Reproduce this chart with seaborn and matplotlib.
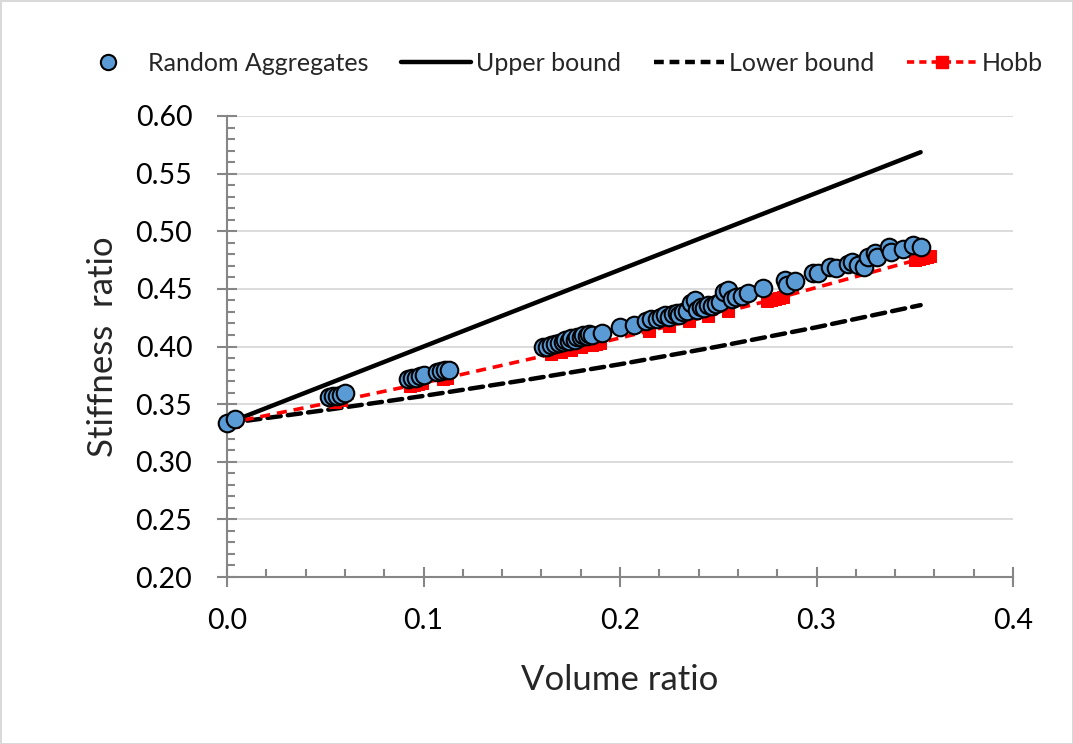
import numpy as np
import pandas as pd
import seaborn as sns
import matplotlib.pyplot as plt
from matplotlib.ticker import MultipleLocator
from matplotlib.lines import Line2D

# random aggregate results
agg_x = [0.000, 0.004, 0.052, 0.054, 0.056, 0.058, 0.060, 0.092, 0.094, 0.096, 0.098, 0.100,
         0.107, 0.109, 0.111, 0.113, 0.161, 0.163, 0.165, 0.167, 0.169, 0.171, 0.172, 0.174,
         0.175, 0.177, 0.178, 0.180, 0.181, 0.183, 0.184, 0.186, 0.191, 0.200, 0.207, 0.213,
         0.216, 0.219, 0.221, 0.223, 0.225, 0.227, 0.229, 0.230, 0.232, 0.234, 0.236, 0.238,
         0.239, 0.241, 0.243, 0.245, 0.247, 0.249, 0.251, 0.253, 0.255, 0.257, 0.259, 0.262,
         0.265, 0.273, 0.284, 0.285, 0.289, 0.298, 0.301, 0.307, 0.310, 0.316, 0.318, 0.321,
         0.324, 0.326, 0.330, 0.331, 0.337, 0.338, 0.344, 0.349, 0.353]
agg_y = [0.334, 0.337, 0.356, 0.357, 0.357, 0.358, 0.360, 0.372, 0.373, 0.373, 0.374, 0.375,
         0.378, 0.379, 0.380, 0.380, 0.400, 0.400, 0.401, 0.402, 0.403, 0.404, 0.406, 0.405,
         0.407, 0.406, 0.408, 0.408, 0.410, 0.409, 0.411, 0.410, 0.412, 0.417, 0.419, 0.422,
         0.424, 0.424, 0.426, 0.427, 0.426, 0.428, 0.429, 0.427, 0.430, 0.431, 0.438, 0.440,
         0.432, 0.434, 0.433, 0.436, 0.435, 0.437, 0.439, 0.447, 0.449, 0.441, 0.443, 0.444,
         0.446, 0.451, 0.458, 0.453, 0.457, 0.464, 0.464, 0.469, 0.468, 0.472, 0.473, 0.471,
         0.469, 0.478, 0.481, 0.478, 0.486, 0.482, 0.485, 0.488, 0.486]

# bounds
upper_x = [0.0, 0.353]
upper_y = [0.3333, 0.5686]
lower_x = [0.0, 0.05, 0.10, 0.15, 0.20, 0.25, 0.30, 0.353]
lower_y = [0.3333, 0.3448, 0.3571, 0.3704, 0.3846, 0.4000, 0.4167, 0.4359]

# Hobbs model
hobb_x = [0.0, 0.003, 0.055, 0.058, 0.093, 0.095, 0.097, 0.099, 0.110, 0.112, 0.165, 0.170,
          0.175, 0.180, 0.184, 0.186, 0.188, 0.190, 0.215, 0.225, 0.235, 0.245, 0.255, 0.275,
          0.277, 0.279, 0.281, 0.283, 0.350, 0.352, 0.354, 0.356, 0.358]
hobb_y = [0.3333, 0.3343, 0.3522, 0.3532, 0.3658, 0.3666, 0.3673, 0.3681, 0.3721, 0.3729,
          0.3933, 0.3953, 0.3973, 0.3993, 0.4009, 0.4017, 0.4025, 0.4033, 0.4136, 0.4178,
          0.4221, 0.4264, 0.4307, 0.4396, 0.4405, 0.4414, 0.4423, 0.4432, 0.4747, 0.4757,
          0.4767, 0.4777, 0.4787]

sns.set_style("white")
plt.rcParams['font.family'] = ['Lato', 'DejaVu Sans']

fig = plt.figure(figsize=(10.73, 7.44), dpi=100, edgecolor='#D9D9D9', linewidth=2)
ax = fig.add_axes([227/1073, 1 - 577/744, (1013-227)/1073, (577-116)/744])

ax.grid(axis='y', color='#D9D9D9', lw=1.3, zorder=0)
ax.set_axisbelow(True)

sns.lineplot(x=upper_x, y=upper_y, color='black', lw=3.2, ax=ax, zorder=3,
             solid_capstyle='round')
sns.lineplot(x=lower_x, y=lower_y, color='black', lw=3.2, ax=ax, zorder=3)
ax.lines[-1].set_dashes([3, 1.6])
ax.lines[-1].set_dash_capstyle('round')
sns.lineplot(x=hobb_x, y=hobb_y, color='red', lw=2.6, ax=ax, zorder=4,
             marker='s', markersize=8, markeredgecolor='red', sort=False)
ax.lines[-1].set_dashes([2.8, 1.9])
sns.scatterplot(x=agg_x, y=agg_y, ax=ax, s=160, color='#5B9BD5',
                edgecolor='black', linewidth=1.5, zorder=5, clip_on=False)

ax.set_xlim(0, 0.4)
ax.set_ylim(0.2, 0.6)
ax.xaxis.set_major_locator(MultipleLocator(0.1))
ax.xaxis.set_minor_locator(MultipleLocator(0.02))
ax.yaxis.set_major_locator(MultipleLocator(0.05))
ax.yaxis.set_minor_locator(MultipleLocator(0.01))
ax.xaxis.set_major_formatter(lambda v, p: f"{v:.1f}")
ax.yaxis.set_major_formatter(lambda v, p: f"{v:.2f}")

for s in ['top', 'right']:
    ax.spines[s].set_visible(False)
for s in ['left', 'bottom']:
    ax.spines[s].set_color('#868686')
    ax.spines[s].set_linewidth(1.5)

ax.tick_params(which='both', bottom=True, left=True)
ax.tick_params(which='major', direction='inout', length=14, width=1.5, color='#868686',
               labelsize=20.5, labelcolor='black')
ax.tick_params(which='minor', direction='in', length=6, width=1.5, color='#868686')
ax.tick_params(axis='x', which='major', pad=15)
ax.tick_params(axis='y', which='major', pad=18)

ax.set_xlabel('Volume ratio', fontsize=25, labelpad=22)
ax.set_ylabel('Stiffness  ratio', fontsize=25, labelpad=12)

handles = [
    Line2D([], [], ls='none', marker='o', markersize=11, markerfacecolor='#5B9BD5',
           markeredgecolor='black', markeredgewidth=1.5),
    Line2D([], [], color='black', lw=3.2),
    Line2D([], [], color='black', lw=3.2, dashes=[2.2, 1.3]),
    Line2D([], [], color='red', lw=2.6, dashes=[2.0, 1.4], marker='s', markersize=9),
]
labels = ['Random Aggregates', 'Upper bound', 'Lower bound', 'Hobb']
fig.legend(handles, labels, loc='center', bbox_to_anchor=(0.52, 0.915), ncol=4,
           frameon=False, fontsize=18, handlelength=2.8, handletextpad=0.2,
           columnspacing=1.3, numpoints=1)

fig.savefig('out.png', dpi=100, edgecolor=fig.get_edgecolor())
